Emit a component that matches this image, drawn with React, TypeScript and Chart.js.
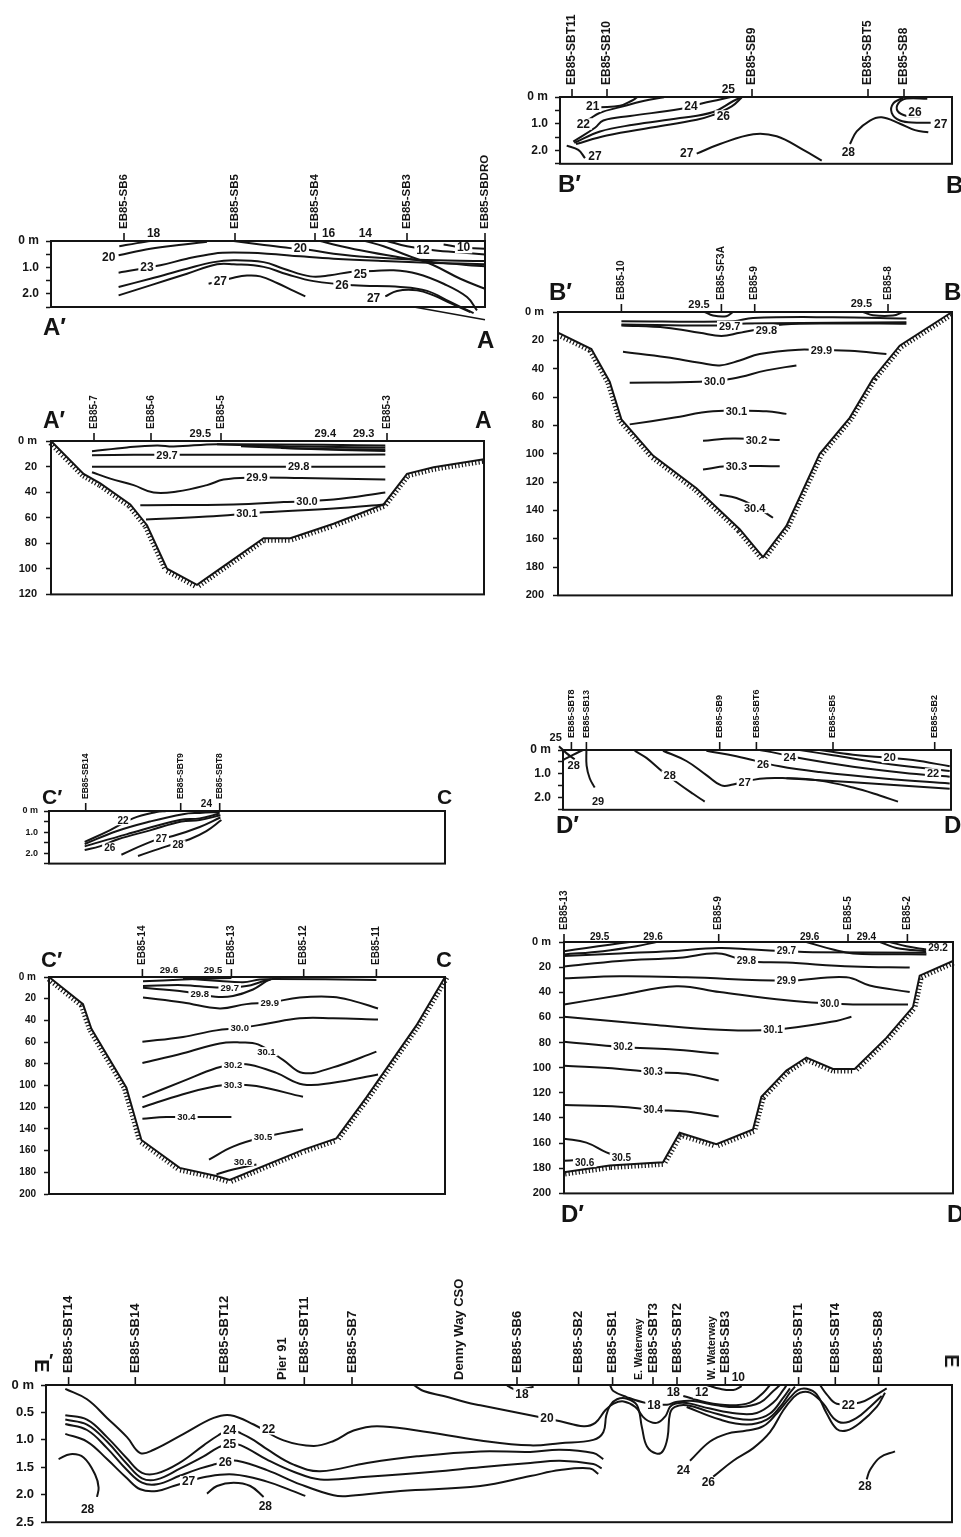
import React, { useEffect, useRef } from 'react';
import { Chart, registerables } from 'chart.js';

Chart.register(...registerables);

const FONT = '"Liberation Sans", Arimo, Arial, Helvetica, sans-serif';
const INK = '#141414';

type Pt = [number, number];
type Lbl = [number, number, string];
type Stn = [number, string, number?];

// ---------- shared depth ticks ----------
const sedTicks = [0, 0.5, 1, 1.5, 2, 2.5];
const sedTickText = ['0 m', '', '1.0', '', '2.0', ''];
const eTickText = ['0 m', '0.5', '1.0', '1.5', '2.0', '2.5'];
const shelfTicks = [0, 20, 40, 60, 80, 100, 120];
const shelfTickText = ['0 m', '20', '40', '60', '80', '100', '120'];
const deepTicks = [0, 20, 40, 60, 80, 100, 120, 140, 160, 180, 200];
const deepTickText = ['0 m', '20', '40', '60', '80', '100', '120', '140', '160', '180', '200'];

// ---------- B'-B sediment temperature section ----------
const bSedStations: Stn[] = [[12, 'EB85-SBT11'], [47, 'EB85-SB10'], [192, 'EB85-SB9'], [308, 'EB85-SBT5'], [344, 'EB85-SB8']];
const bSedLines: Pt[][] = [
  [[40, 0.38], [60, 0.33], [71.7, 0.14], [77.3, 0.01]],
  [[28.3, 0.85], [40, 0.59], [60, 0.38], [83.3, 0.15], [104, 0.01]],
  [[13.3, 1.67], [35, 1.15], [43.3, 0.88], [70, 0.71], [120, 0.45], [141.7, 0.24], [160, 0.09], [170.7, 0]],
  [[14.3, 1.72], [40, 1.29], [73.3, 1.04], [120, 0.79], [153.3, 0.56], [173.3, 0.15], [180.7, 0.02]],
  [[16, 1.76], [46.7, 1.44], [93.3, 1.13], [136.7, 0.85], [152.7, 0.68], [171.7, 0.35], [181.7, 0.02]],
  [[6.7, 1.82], [18.3, 1.98], [25, 2.29]],
  [[136.7, 2.12], [160, 1.76], [193.3, 1.39], [216.7, 1.47], [243.3, 1.98], [261.7, 2.38]],
  [[290, 1.76], [296.7, 1.29], [310, 0.88], [321.7, 0.76], [340, 1.0], [355, 1.24], [368.3, 1.32]],
  [[367.3, 0.07], [346.7, 0.06], [338.3, 0.24], [337.7, 0.53], [346.7, 0.71], [360, 0.73]],
  [[343.3, 0.02], [333.3, 0.24], [331.7, 0.59], [340, 0.88], [356.7, 0.96], [370.7, 0.96]],
];
const bSedLabels: Lbl[] = [
  [32.7, 0.35, '21'], [23.3, 1.01, '22'], [131, 0.35, '24'], [168.3, -0.29, '25'], [163.3, 0.71, '26'],
  [35, 2.2, '27'], [126.7, 2.12, '27'], [288.3, 2.06, '28'], [355, 0.56, '26'], [380.7, 1.0, '27'],
];

// ---------- A'-A sediment ----------
const aSedStations: Stn[] = [[73, 'EB85-SB6'], [184, 'EB85-SB5'], [264, 'EB85-SB4'], [356, 'EB85-SB3'], [434, 'EB85-SBDRO']];
const aSedLines: Pt[][] = [
  [[68.3, 0.2], [86, 0.08], [99.3, 0]],
  [[67.6, 0.54], [99.3, 0.29], [132.6, 0.13], [156, 0.03]],
  [[182.6, 0], [209.3, 0.13], [239.3, 0.27], [261, 0.35], [282.6, 0.48], [316, 0.61], [366, 0.71], [434, 0.76]],
  [[67.6, 1.2], [109.3, 0.92], [136, 0.67], [162.6, 0.48], [182.6, 0.44], [216, 0.48], [249.3, 0.58], [282.6, 0.67], [332.6, 0.76], [382.6, 0.83], [434, 0.88]],
  [[67.6, 1.74], [99.3, 1.43], [136, 1.05], [162.6, 0.8], [182.6, 0.73], [212.6, 0.8], [232.6, 1.05], [259.3, 1.34], [279.3, 1.3], [299.3, 1.17], [322.6, 1.14], [342.6, 1.11], [366, 1.24], [392.6, 1.62], [416, 2.12], [426, 2.63]],
  [[67.6, 2.06], [99.3, 1.68], [136, 1.24], [166, 0.88], [182.6, 0.88], [212.6, 0.98], [236, 1.26], [262.6, 1.52], [302.6, 1.68], [349.3, 1.74], [376, 1.89], [399.3, 2.31], [422.6, 2.73]],
  [[157.6, 1.62], [182.6, 1.39], [196, 1.31], [209.3, 1.34], [226, 1.59], [242.6, 1.89], [254.3, 2.1]],
  [[334.3, 2.1], [346, 1.89], [366, 1.87], [382.6, 2.06], [399.3, 2.35], [419.3, 2.69]],
  [[269.3, 0], [282.6, 0.13], [309.3, 0.35], [342.6, 0.58], [382.6, 0.8], [434, 0.96]],
  [[314.3, 0], [332.6, 0.2], [356, 0.54], [382.6, 0.92], [409.3, 1.43], [434, 1.81]],
  [[336, 0], [356, 0.2], [382.6, 0.35], [416, 0.45], [434, 0.51]],
  [[392.6, 0.13], [412.6, 0.25], [422.6, 0.27], [434, 0.29]],
];
const aSedLabels: Lbl[] = [
  [102.6, -0.3, '18'], [57.7, 0.63, '20'], [249.3, 0.29, '20'], [277.6, -0.3, '16'], [314.3, -0.3, '14'],
  [372, 0.33, '12'], [412.6, 0.25, '10'], [96, 1.01, '23'], [309.3, 1.26, '25'], [291, 1.68, '26'],
  [169.3, 1.53, '27'], [322.6, 2.18, '27'],
];
const aSedBottomEdge: Pt[] = [[363, 2.5], [434, 2.98]];

// ---------- A'-A water column ----------
const aWatStations: Stn[] = [[43, 'EB85-7'], [100, 'EB85-6'], [170, 'EB85-5'], [336, 'EB85-3']];
const aWatBottom: Pt[] = [[0, 0], [32.6, 25.7], [49.3, 33.2], [79.3, 49.6], [96, 65.9], [116, 99.9], [146, 112.5], [176, 96.1], [212.6, 76], [239.3, 76], [282.6, 64.7], [332.6, 49.6], [356, 25.7], [382.6, 20.6], [433, 14.3]];
const aWatLines: Pt[][] = [
  [[41, 8], [76, 5], [106, 3.5], [122.6, 4.3], [166, 2.5], [334.3, 3.5]],
  [[166, 2.6], [250, 4.4], [334.3, 5]],
  [[190, 4.2], [260, 6.1], [334.3, 6.6]],
  [[230, 5.4], [290, 7], [334.3, 7.8]],
  [[41, 11.1], [82.6, 10.8], [216, 10.8], [334.3, 10.6]],
  [[41, 20.1], [334.3, 20.1]],
  [[41, 24.4], [59.3, 29.4], [82.6, 34.5], [102.6, 40.3], [126, 39.5], [156, 34.5], [172.6, 30.2], [199.3, 28.7], [250, 29], [334.3, 30.2]],
  [[89.3, 50.3], [182.6, 49.6], [232.6, 47.8], [282.6, 45.8], [334.3, 40.3]],
  [[95, 61.4], [156, 59.1], [212.6, 55.8], [282.6, 52.8], [334.3, 49.6]],
];
const aWatLabels: Lbl[] = [
  [149.3, -5.8, '29.5'], [274.3, -5.8, '29.4'], [312.6, -5.8, '29.3'], [116, 11.5, '29.7'],
  [247.6, 20.3, '29.8'], [206, 28.7, '29.9'], [256, 47, '30.0'], [196, 56.8, '30.1'],
];

// ---------- B'-B water column ----------
const bWatStations: Stn[] = [[63.4, 'EB85-10'], [163.4, 'EB85-SF3A'], [196.7, 'EB85-9'], [330, 'EB85-8']];
const bWatBottom: Pt[] = [[0, 14.6], [33.4, 26.1], [51.7, 49.2], [63.4, 75.8], [95, 101.3], [138.4, 124.4], [181.7, 153.3], [205, 173], [228.4, 151], [261.7, 100.1], [291.7, 74.7], [315, 46.9], [341.7, 23.8], [394, 0]];
const bWatLines: Pt[][] = [
  [[146.7, 0], [155, 2.5], [168.4, 3], [175, 0]],
  [[305, 0], [315, 2.3], [335, 2.5], [345, 0]],
  [[63.4, 6.5], [175, 6.5], [195, 4.2], [275, 3.7], [348.4, 4.6]],
  [[63.4, 8.8], [158.4, 9.5], [188.4, 8.1], [275, 7.6], [348.4, 7.2]],
  [[63.4, 9.5], [108.4, 11.1], [141.7, 14.6], [163.4, 16.9], [181.7, 14.6], [208.4, 11], [225, 8.8], [275, 8.1], [348.4, 8.3]],
  [[65, 28], [108.4, 31.9], [141.7, 35.8], [161.7, 37.7], [181.7, 34.2], [201.7, 29.6], [241.7, 26.6], [263.4, 27], [291.7, 27.3], [328.4, 29.6]],
  [[71.7, 49.9], [141.7, 49.2], [175, 46.9], [208.4, 41.2], [238.4, 37.7]],
  [[71.7, 79.3], [115, 74.7], [155, 70.1], [208.4, 70.1], [228.4, 71.9]],
  [[145, 90.9], [175, 89.2], [221.7, 90.4]],
  [[145, 111.2], [168.4, 108.9], [221.7, 108.9]],
  [[161.7, 129], [178.4, 131.3], [196.7, 137], [215, 145.2]],
];
const bWatLabels: Lbl[] = [
  [141, -5.1, '29.5'], [303.4, -6.2, '29.5'], [171.7, 9.9, '29.7'], [208.4, 12.7, '29.8'], [263.4, 27.3, '29.9'],
  [156.7, 49.2, '30.0'], [178.4, 70.1, '30.1'], [198.4, 90.4, '30.2'], [178.4, 108.9, '30.3'], [196.7, 138.3, '30.4'],
];

// ---------- C'-C sediment ----------
const cSedStations: Stn[] = [[36.7, 'EB85-SB14'], [131.7, 'EB85-SBT9'], [170.7, 'EB85-SBT8']];
const cSedLines: Pt[][] = [
  [[35.7, 1.47], [60.7, 0.92], [84, 0.35], [107.4, 0.05], [117.4, 0]],
  [[35.7, 1.57], [67.4, 0.96], [101, 0.5], [134, 0.15], [150.7, 0.09], [170.7, 0.05]],
  [[35.7, 1.68], [77.4, 1.11], [130.7, 0.43], [150.7, 0.35], [170.7, 0.12]],
  [[35.7, 1.85], [50.7, 1.68], [69, 1.34], [101, 0.92], [132.4, 0.5], [150.7, 0.43], [171.4, 0.2]],
  [[72.4, 2.08], [104, 1.42], [124, 1.19], [150.7, 0.76], [171.4, 0.31]],
  [[89, 2.14], [117.4, 1.68], [140.7, 1.34], [157.4, 0.96], [172.4, 0.43]],
];
const cSedLabels: Lbl[] = [[74, 0.45, '22'], [157.4, -0.34, '24'], [60.7, 1.73, '26'], [112.4, 1.34, '27'], [129, 1.62, '28']];

// ---------- D'-D sediment ----------
const dSedStations: Stn[] = [[8.4, 'EB85-SBT8'], [23.4, 'EB85-SB13'], [156.7, 'EB85-SB9'], [193.4, 'EB85-SBT6'], [270, 'EB85-SB5'], [371.7, 'EB85-SB2']];
const dSedLines: Pt[][] = [
  [[-4, -0.16], [3.4, 0.13], [11.7, 0.39]],
  [[0, 0.42], [10, 0.2], [20, 0]],
  [[23.4, 0], [23.6, 0.65], [26.7, 1.18], [31.7, 1.57]],
  [[71.7, 0.03], [83.4, 0.33], [100, 0.92], [116.7, 1.44], [130, 1.83], [141.7, 2.16]],
  [[100, 0.03], [123.4, 0.46], [143.4, 1.05], [158.4, 1.48], [170, 1.44], [196.7, 1.2], [223.4, 1.18], [256.7, 1.28], [290, 1.57], [316.7, 1.9], [335, 2.16]],
  [[223.4, 1.18], [290, 1.35], [386.7, 1.62]],
  [[143.4, 0.03], [173.4, 0.26], [216.7, 0.68], [256.7, 0.92], [323.4, 1.2], [386.7, 1.4]],
  [[196.7, 0], [213.4, 0.13], [243.4, 0.39], [290, 0.7], [340, 0.95], [386.7, 1.12]],
  [[236.7, 0], [270, 0.22], [320, 0.55], [386.7, 0.88]],
  [[256.7, 0], [290, 0.2], [326.7, 0.33], [350, 0.42], [386.7, 0.68]],
];
const dSedLabels: Lbl[] = [
  [-7.3, -0.52, '25'], [10.7, 0.63, '28'], [35, 2.16, '29'], [106.7, 1.07, '28'], [181.7, 1.37, '27'],
  [200, 0.59, '26'], [226.7, 0.33, '24'], [370, 0.98, '22'], [326.7, 0.33, '20'],
];

// ---------- C'-C water column ----------
const cWatStations: Stn[] = [[93.4, 'EB85-14'], [182.4, 'EB85-13'], [254.7, 'EB85-12'], [327.4, 'EB85-11']];
const cWatBottom: Pt[] = [[0, 0], [34, 25], [42.4, 47.7], [77.4, 102], [92.4, 150.2], [130.7, 175.9], [167.4, 183.4], [180.7, 187], [254, 159.3], [287.4, 148.7], [317.4, 111], [367.4, 44.6], [396, 0]];
const cWatLines: Pt[][] = [
  [[94, 3.9], [134, 2.4], [160, 1.5], [182.4, 0.9]],
  [[134, 1.2], [170.7, 3.6], [194, 4.8], [210.7, 2.4], [225, 1.8], [327.4, 2.7]],
  [[94, 8.4], [134, 7.5], [167.4, 9.7], [197.4, 8.4], [214, 3.9], [222, 2.4]],
  [[94, 10], [130.7, 13], [166.4, 18.1], [184, 17.5], [204, 11.5], [217.4, 3.9], [220.7, 2.4]],
  [[94, 19], [134, 23.5], [170.7, 29], [197.4, 25], [220.7, 23.5], [250.7, 19], [284, 18.4], [304, 22], [329, 29]],
  [[93.4, 59.7], [134, 55.2], [167.4, 49.2], [190.7, 47.1], [217.4, 43.1], [250.7, 38], [284, 38], [329, 39.2]],
  [[93.4, 79.3], [134, 70.3], [170.7, 61.2], [190.7, 60.3], [209, 62.1], [234, 76.3], [254, 88.4], [284, 83.3], [327.4, 68.8]],
  [[93.4, 111], [134, 96], [167.4, 83.9], [184, 80.8], [200.7, 80.8], [227.4, 88.4], [254, 99], [284, 97.4], [329, 89.9]],
  [[93.4, 120], [134, 108], [167.4, 100.5], [184, 99], [207.4, 100.5], [254, 110.4]],
  [[93.4, 130.6], [117.4, 129.1], [182.4, 129.1]],
  [[160, 168.3], [184, 156.3], [214, 147.8], [254, 140.3]],
  [[167.4, 181.9], [184, 177.4], [207.4, 172.9]],
];
const cWatLabels: Lbl[] = [
  [120, -6.6, '29.6'], [164, -6.6, '29.5'], [180.7, 10, '29.7'], [150.7, 16, '29.8'], [220.7, 23.5, '29.9'],
  [190.7, 47.1, '30.0'], [217.4, 68.8, '30.1'], [184, 80.8, '30.2'], [184, 99, '30.3'], [137.4, 129.1, '30.4'],
  [214, 147.8, '30.5'], [194, 170, '30.6'],
];

// ---------- D'-D water column ----------
const dWatStations: Stn[] = [[0, 'EB85-13'], [154.7, 'EB85-9'], [284, 'EB85-5'], [343.4, 'EB85-2']];
const dWatBottom: Pt[] = [[0, 183.1], [45.7, 177.9], [99, 175.3], [115.7, 151.8], [152.4, 160.9], [189, 149.2], [197.4, 123.2], [222.4, 102.3], [242.4, 91.9], [269, 101], [290.7, 101], [322.4, 76.3], [349, 51.6], [355.7, 26.8], [389, 15.1]];
const dWatLines: Pt[][] = [
  [[0, 7.3], [22.4, 4.7], [45.7, 2.1], [65.7, 0]],
  [[0, 9.9], [39, 7.3], [72.4, 3.4], [92.4, 0]],
  [[0, 11.2], [55.7, 9.1], [105.7, 7.3], [154.7, 4.7], [189, 6], [222.4, 7.3], [249, 8.1], [362.4, 8.6]],
  [[0, 19.5], [55.7, 15.1], [115.7, 12.5], [154.7, 9.1], [182.4, 15.1], [222.4, 16.4], [289, 19.5], [345.7, 20.3]],
  [[0, 28.9], [55.7, 27.3], [122.4, 28.1], [222.4, 30.7], [282.4, 28.1], [305.7, 34.6], [345.7, 39.8]],
  [[0, 49.7], [55.7, 42.4], [112.4, 35.2], [155.7, 39.8], [222.4, 46.4], [265.7, 49], [289, 49.7], [344, 49.7]],
  [[0, 59.4], [89, 65.9], [155.7, 69.8], [209, 69.8], [272.4, 62.8], [287.4, 59.4]],
  [[0, 79.4], [59, 83.6], [105.7, 85.4], [154.7, 88.8]],
  [[0, 98.4], [55.7, 101], [89, 103.6], [122.4, 104.9], [154.7, 110.2]],
  [[0, 129.7], [55.7, 131], [89, 133.6], [122.4, 134.9], [154.7, 138.8]],
  [[0, 156.5], [22.4, 159.6], [42.4, 167.4], [57.4, 171.4]],
  [[0, 174], [12, 173.5]],
  [[242.4, 0], [269, 6], [289, 9.1], [362.4, 9.9]],
  [[316, 0], [332.4, 4.7], [362.4, 7.3]],
  [[325.7, 0], [342.4, 3.4], [362.4, 6]],
];
const dWatLabels: Lbl[] = [
  [35.7, -4.4, '29.5'], [89, -4.4, '29.6'], [245.7, -4.4, '29.6'], [302.4, -4.4, '29.4'], [374, 4.7, '29.2'],
  [222.4, 7.3, '29.7'], [182.4, 15.1, '29.8'], [222.4, 30.7, '29.9'], [265.7, 49, '30.0'], [209, 69.8, '30.1'],
  [59, 83.6, '30.2'], [89, 103.6, '30.3'], [89, 133.6, '30.4'], [57.4, 171.4, '30.5'], [20.7, 175.3, '30.6'],
];

// ---------- E'-E sediment ----------
const eSedStations: Stn[] = [
  [22.6, 'EB85-SBT14'], [89.3, 'EB85-SB14'], [178.6, 'EB85-SBT12'], [236, 'Pier 91', 1], [258.3, 'EB85-SBT11'],
  [306, 'EB85-SB7'], [413.6, 'Denny Way CSO', 1], [471, 'EB85-SB6'], [532.6, 'EB85-SB2'], [566.6, 'EB85-SB1'],
  [593.6, 'E. Waterway', 2], [607, 'EB85-SBT3'], [631, 'EB85-SBT2'], [666, 'W. Waterway', 2], [679.3, 'EB85-SB3'],
  [752.6, 'EB85-SBT1'], [789.3, 'EB85-SBT4'], [832.6, 'EB85-SB8'],
];
const eSedLines: Pt[][] = [
  // 20
  [[367.6, 0], [377.6, 0.11], [397.6, 0.2], [421, 0.32], [434.3, 0.37], [489.3, 0.57], [514.3, 0.66], [537.6, 0.75], [549.3, 0.69], [559.3, 0.46], [567.6, 0.34], [577.6, 0.3], [589.3, 0.4], [599.3, 0.62], [610.7, 0.69], [619.3, 0.57], [624, 0.4], [629, 0.34], [640.7, 0.33], [664, 0.43], [690.7, 0.52], [710.7, 0.51], [727.3, 0.32], [737.3, 0.09], [740.7, 0]],
  // 22 (with deep loop)
  [[19.3, 0.07], [41, 0.26], [61, 0.6], [81, 0.95], [94.3, 1.24], [107.7, 1.18], [137.7, 0.89], [167.7, 0.6], [184.3, 0.55], [207.7, 0.72], [237.6, 1.01], [267.6, 1.11], [287.6, 1.02], [307.6, 0.83], [331, 0.75], [371, 0.83], [434.3, 1.01], [484.3, 1.1], [514, 1.06], [547.3, 1.0], [557.3, 0.86], [560.3, 0.55], [564.3, 0.37], [571, 0.26], [581, 0.25], [591, 0.37], [596, 0.78], [601, 1.12], [610.7, 1.25], [617, 1.2], [621.6, 0.95], [624, 0.52], [629, 0.4], [640.7, 0.37], [664, 0.49], [687.3, 0.6], [707.3, 0.63], [724, 0.52], [737.3, 0.23], [744, 0.06]],
  // 24
  [[19.3, 0.55], [41, 0.63], [61, 0.95], [81, 1.34], [96, 1.6], [111, 1.61], [134.3, 1.41], [157.6, 1.1], [172, 0.92], [183.6, 0.82], [195, 0.88], [210, 1.03], [221, 1.17], [247.6, 1.45], [274.3, 1.57], [321, 1.42], [371, 1.3], [434.3, 1.21], [484.3, 1.22], [514, 1.18], [547.3, 1.24], [557.3, 1.35]],
  // 25
  [[19.3, 0.63], [41, 0.72], [61, 1.03], [81, 1.44], [96, 1.7], [111, 1.72], [134.3, 1.52], [157.6, 1.3], [172, 1.14], [183.6, 1.07], [195, 1.1], [221, 1.36], [247.6, 1.58], [274.3, 1.72], [321, 1.67], [387.6, 1.58], [434.3, 1.5], [484.3, 1.42], [514, 1.38], [547.3, 1.44], [555.7, 1.52]],
  // 26
  [[19.3, 0.71], [41, 0.82], [61, 1.15], [81, 1.55], [96, 1.78], [111, 1.81], [134.3, 1.65], [154.3, 1.52], [167.6, 1.45], [179.3, 1.4], [191, 1.38], [221, 1.55], [254.3, 1.81], [287.6, 2.01], [304.3, 2.02], [354.3, 1.93], [434.3, 1.84], [484.3, 1.66], [514, 1.55], [544, 1.52], [552.3, 1.62]],
  // 27
  [[19.3, 0.89], [41, 1.03], [61, 1.35], [81, 1.7], [94.3, 1.9], [111, 1.93], [127.6, 1.84], [142.6, 1.76], [157.6, 1.68], [187.6, 1.63], [221, 1.76], [245, 1.92], [259.3, 2.02]],
  // 28s
  [[12.6, 1.35], [24.3, 1.26], [37.6, 1.32], [49.3, 1.64], [52.6, 1.87], [51, 2.04]],
  [[161, 1.98], [171, 1.84], [187.6, 1.78], [204.3, 1.84], [217.6, 2.04]],
  // 18 near SB6
  [[461, 0.01], [471, 0.09], [487.6, 0.03]],
  // 18 from SB1
  [[564, 0], [567.3, 0.11], [580.7, 0.22], [600.7, 0.33], [621, 0.36], [630, 0.31], [647.3, 0.29], [670.7, 0.37], [694, 0.4], [714, 0.32], [727.3, 0.11], [734, 0]],
  // 12
  [[637.3, 0.2], [660.7, 0.32], [684, 0.37], [704, 0.32], [717.3, 0.14], [724, 0]],
  // 10
  [[660.7, 0], [674, 0.07], [687.3, 0.09], [695.7, 0.02]],
  // outer bundle line
  [[640.7, 0.4], [674, 0.63], [700.7, 0.72], [720.7, 0.63], [734, 0.4], [744, 0.14], [749, 0.03]],
  // 24 east
  [[644, 1.38], [664, 1.03], [680.7, 0.89], [700.7, 0.83], [717.3, 0.75], [730.7, 0.52], [744, 0.23], [752.3, 0.09], [760.7, 0.07], [770.7, 0.17], [780.7, 0.52], [790.7, 0.8], [800.7, 0.83], [814, 0.69], [830.7, 0.4], [839, 0.14]],
  // 26 east
  [[667.3, 1.67], [687.3, 1.38], [707.3, 1.15], [724, 0.86], [737.3, 0.46], [747.3, 0.23], [754, 0.14], [764, 0.14], [777.3, 0.34], [787.3, 0.6], [797.3, 0.69], [810.7, 0.6], [824, 0.4], [835.7, 0.2]],
  // 22 east
  [[774, 0], [780.7, 0.17], [790.7, 0.34], [814, 0.32], [830.7, 0.17], [840.7, 0.06]],
  // 28 east
  [[820.7, 1.72], [824, 1.55], [834, 1.32], [849, 1.21]],
];
const eSedLabels: Lbl[] = [
  [222.6, 0.8, '22'], [183.6, 0.82, '24'], [183.6, 1.07, '25'], [179.3, 1.4, '26'], [142.6, 1.76, '27'],
  [41.6, 2.27, '28'], [219.3, 2.21, '28'], [501, 0.61, '20'], [476, 0.16, '18'], [608, 0.36, '18'],
  [627.3, 0.14, '18'], [655.7, 0.14, '12'], [692.3, -0.14, '10'], [637.3, 1.55, '24'], [662.3, 1.78, '26'],
  [802.3, 0.36, '22'], [819, 1.84, '28'],
];

interface PanelCfg {
  box: [number, number, number, number];
  pad: [number, number, number, number];
  yMax: number;
  yTicks: number[];
  yLabels: string[];
  yFont: number;
  yPad: number;
  stations: Stn[];
  stFont: number;
  stSmallFont?: number;
  lines: Pt[][];
  labels: Lbl[];
  lblFont: number;
  bottom?: Pt[];
  edges?: Pt[][];
}

const panels: PanelCfg[] = [
  { box: [560, 97, 952, 168], pad: [42, 92, 9, 10], yMax: 2.5, yTicks: sedTicks, yLabels: sedTickText, yFont: 12, yPad: 7, stations: bSedStations, stFont: 12, lines: bSedLines, labels: bSedLabels, lblFont: 12 },
  { box: [51, 241, 485, 307], pad: [46, 90, 8, 22], yMax: 2.5, yTicks: sedTicks, yLabels: sedTickText, yFont: 12, yPad: 7, stations: aSedStations, stFont: 11.5, lines: aSedLines, labels: aSedLabels, lblFont: 12, edges: [aSedBottomEdge] },
  { box: [51, 441, 484, 600], pad: [46, 52, 9, 10], yMax: 120, yTicks: shelfTicks, yLabels: shelfTickText, yFont: 11, yPad: 9, stations: aWatStations, stFont: 10, lines: aWatLines, labels: aWatLabels, lblFont: 11, bottom: aWatBottom },
  { box: [558, 312, 952, 601], pad: [48, 70, 8, 10], yMax: 200, yTicks: deepTicks, yLabels: deepTickText, yFont: 11, yPad: 9, stations: bWatStations, stFont: 10, lines: bWatLines, labels: bWatLabels, lblFont: 11, bottom: bWatBottom },
  { box: [49, 811, 445, 865], pad: [40, 72, 10, 10], yMax: 2.5, yTicks: sedTicks, yLabels: sedTickText, yFont: 9, yPad: 6, stations: cSedStations, stFont: 8.5, lines: cSedLines, labels: cSedLabels, lblFont: 10 },
  { box: [563, 750, 951, 814], pad: [42, 64, 9, 10], yMax: 2.5, yTicks: sedTicks, yLabels: sedTickText, yFont: 12, yPad: 7, stations: dSedStations, stFont: 9, lines: dSedLines, labels: dSedLabels, lblFont: 11 },
  { box: [49, 977, 445, 1198], pad: [42, 56, 10, 10], yMax: 200, yTicks: deepTicks, yLabels: deepTickText, yFont: 10, yPad: 8, stations: cWatStations, stFont: 10, lines: cWatLines, labels: cWatLabels, lblFont: 9.5, bottom: cWatBottom },
  { box: [564, 942, 953, 1198], pad: [44, 58, 7, 10], yMax: 200, yTicks: deepTicks, yLabels: deepTickText, yFont: 11, yPad: 8, stations: dWatStations, stFont: 10, lines: dWatLines, labels: dWatLabels, lblFont: 10, bottom: dWatBottom },
  { box: [46, 1385, 952, 1530], pad: [44, 120, 8, 7], yMax: 2.5, yTicks: sedTicks, yLabels: eTickText, yFont: 13, yPad: 7, stations: eSedStations, stFont: 13, stSmallFont: 10.5, lines: eSedLines, labels: eSedLabels, lblFont: 12 },
];

// section end letters: [text, left, top, size]
const letters: [string, number, number, number][] = [
  ["B′", 558, 172, 24], ['B', 946, 173, 24],
  ["A′", 43, 315, 24], ['A', 477, 328, 24],
  ["A′", 43, 409, 23], ['A', 475, 409, 23],
  ["B′", 549, 280, 24], ['B', 944, 280, 24],
  ["C′", 42, 786, 21], ['C', 437, 786, 21],
  ["D′", 556, 813, 24], ['D', 944, 813, 24],
  ["C′", 41, 949, 22], ['C', 436, 949, 22],
  ["D′", 561, 1202, 24], ['D', 947, 1202, 24],
];

function makeDecor(cfg: PanelCfg) {
  return {
    id: 'sectionDecor',
    afterDatasetsDraw(chart: any) {
      const ctx = chart.ctx;
      const xs = chart.scales.x;
      const ys = chart.scales.y;
      if (cfg.bottom) {
        const p = cfg.bottom.map(([x, y]) => [xs.getPixelForValue(x), ys.getPixelForValue(y)]);
        ctx.save();
        ctx.strokeStyle = INK;
        ctx.lineWidth = 1.2;
        ctx.beginPath();
        for (let i = 0; i < p.length - 1; i++) {
          const [x0, y0] = p[i];
          const [x1, y1] = p[i + 1];
          const dx = x1 - x0, dy = y1 - y0;
          const len = Math.hypot(dx, dy);
          if (len < 1) continue;
          const ux = dx / len, uy = dy / len;
          const nx = -uy, ny = ux;
          for (let t = 1.5; t < len; t += 3.4) {
            const bx = x0 + ux * t, by = y0 + uy * t;
            ctx.moveTo(bx, by);
            ctx.lineTo(bx + nx * 4.5, by + ny * 4.5);
          }
        }
        ctx.stroke();
        ctx.restore();
      }
      ctx.save();
      ctx.font = `bold ${cfg.lblFont}px ${FONT}`;
      ctx.textAlign = 'center';
      ctx.textBaseline = 'middle';
      for (const [x, y, t] of cfg.labels) {
        const px = xs.getPixelForValue(x);
        const py = ys.getPixelForValue(y);
        const w = ctx.measureText(t).width;
        const h = cfg.lblFont * 0.95;
        ctx.fillStyle = '#fff';
        ctx.fillRect(px - w / 2 - 2, py - h / 2, w + 4, h);
        ctx.fillStyle = INK;
        ctx.fillText(t, px, py + 0.5);
      }
      ctx.restore();
    },
    afterDraw(chart: any) {
      const ctx = chart.ctx;
      const xs = chart.scales.x;
      const { left, top, right, bottom } = chart.chartArea;
      ctx.save();
      ctx.strokeStyle = INK;
      ctx.lineWidth = 2;
      ctx.strokeRect(left, top, right - left, bottom - top);
      ctx.fillStyle = INK;
      ctx.lineWidth = 1.6;
      for (const st of cfg.stations) {
        const px = xs.getPixelForValue(st[0]);
        const kind = st[2] || 0;
        if (!kind) {
          ctx.beginPath();
          ctx.moveTo(px, top);
          ctx.lineTo(px, top - 8);
          ctx.stroke();
        }
        ctx.save();
        ctx.translate(px, top - (kind ? 5 : 12));
        ctx.rotate(-Math.PI / 2);
        const size = kind === 2 && cfg.stSmallFont ? cfg.stSmallFont : cfg.stFont;
        ctx.font = `bold ${size}px ${FONT}`;
        ctx.textAlign = 'left';
        ctx.textBaseline = 'middle';
        ctx.fillText(st[1], 0, 0);
        ctx.restore();
      }
      ctx.restore();
    },
  };
}

function Panel({ cfg }: { cfg: PanelCfg }) {
  const ref = useRef<HTMLCanvasElement>(null);
  const [L, T, R, B] = cfg.box;
  const [pl, pt, pr, pb] = cfg.pad;
  const width = R - L + pl + pr;
  const height = B - T + pt + pb;
  useEffect(() => {
    const canvas = ref.current;
    if (!canvas) return;
    const datasets: any[] = cfg.lines.map((pts) => ({
      data: pts.map(([x, y]) => ({ x, y })),
      showLine: true,
      borderColor: INK,
      borderWidth: 2,
      pointRadius: 0,
      pointHoverRadius: 0,
      tension: 0.4,
      fill: false,
      clip: false,
    }));
    if (cfg.bottom) {
      datasets.push({
        data: cfg.bottom.map(([x, y]) => ({ x, y })),
        showLine: true, borderColor: INK, borderWidth: 2, pointRadius: 0, tension: 0, fill: false, clip: false,
      });
    }
    (cfg.edges || []).forEach((pts) => {
      datasets.push({
        data: pts.map(([x, y]) => ({ x, y })),
        showLine: true, borderColor: INK, borderWidth: 1.6, pointRadius: 0, tension: 0, fill: false, clip: false,
      });
    });
    const chart = new Chart(canvas, {
      type: 'scatter',
      data: { datasets },
      options: {
        animation: false,
        responsive: false,
        devicePixelRatio: 1,
        events: [],
        layout: { padding: { left: 0, top: pt, right: pr, bottom: pb } },
        plugins: { legend: { display: false }, tooltip: { enabled: false } },
        elements: { line: { capBezierPoints: false } },
        scales: {
          x: { type: 'linear', display: false, min: 0, max: R - L },
          y: {
            type: 'linear',
            position: 'left',
            reverse: true,
            min: 0,
            max: cfg.yMax,
            afterBuildTicks: (s: any) => { s.ticks = cfg.yTicks.map((v) => ({ value: v })); },
            afterFit: (s: any) => { s.width = pl; },
            ticks: {
              autoSkip: false,
              padding: cfg.yPad,
              color: INK,
              font: { family: FONT, size: cfg.yFont, weight: 'bold' },
              callback: (_v: any, i: number) => cfg.yLabels[i],
            },
            grid: { drawOnChartArea: false, drawTicks: true, tickLength: 5, tickColor: INK, tickWidth: 1.5 },
            border: { display: true, color: INK, width: 2 },
          },
        },
      } as any,
      plugins: [makeDecor(cfg)],
    } as any);
    return () => chart.destroy();
  }, []);
  return (
    <canvas
      ref={ref}
      width={width}
      height={height}
      style={{ position: 'absolute', left: L - pl, top: T - pt, width, height }}
    />
  );
}

export default function App() {
  return (
    <div style={{ position: 'absolute', left: 0, top: 0, width: 961, height: 1537, overflow: 'hidden', background: '#fff', fontFamily: FONT, color: INK }}>
      {panels.map((p, i) => <Panel key={i} cfg={p} />)}
      {letters.map(([t, x, y, s], i) => (
        <div key={'l' + i} style={{ position: 'absolute', left: x, top: y, fontSize: s, fontWeight: 'bold', lineHeight: 1, whiteSpace: 'nowrap' }}>{t}</div>
      ))}
      <div style={{ position: 'absolute', left: 42, top: 1366, fontSize: 20, fontWeight: 'bold', lineHeight: 1, transform: 'translate(-50%, -50%) rotate(90deg)' }}>E</div>
      <div style={{ position: 'absolute', left: 49, top: 1352, fontSize: 18, fontWeight: 'bold', lineHeight: 1 }}>′</div>
      <div style={{ position: 'absolute', left: 952, top: 1361, fontSize: 20, fontWeight: 'bold', lineHeight: 1, transform: 'translate(-50%, -50%) rotate(90deg)' }}>E</div>
    </div>
  );
}
